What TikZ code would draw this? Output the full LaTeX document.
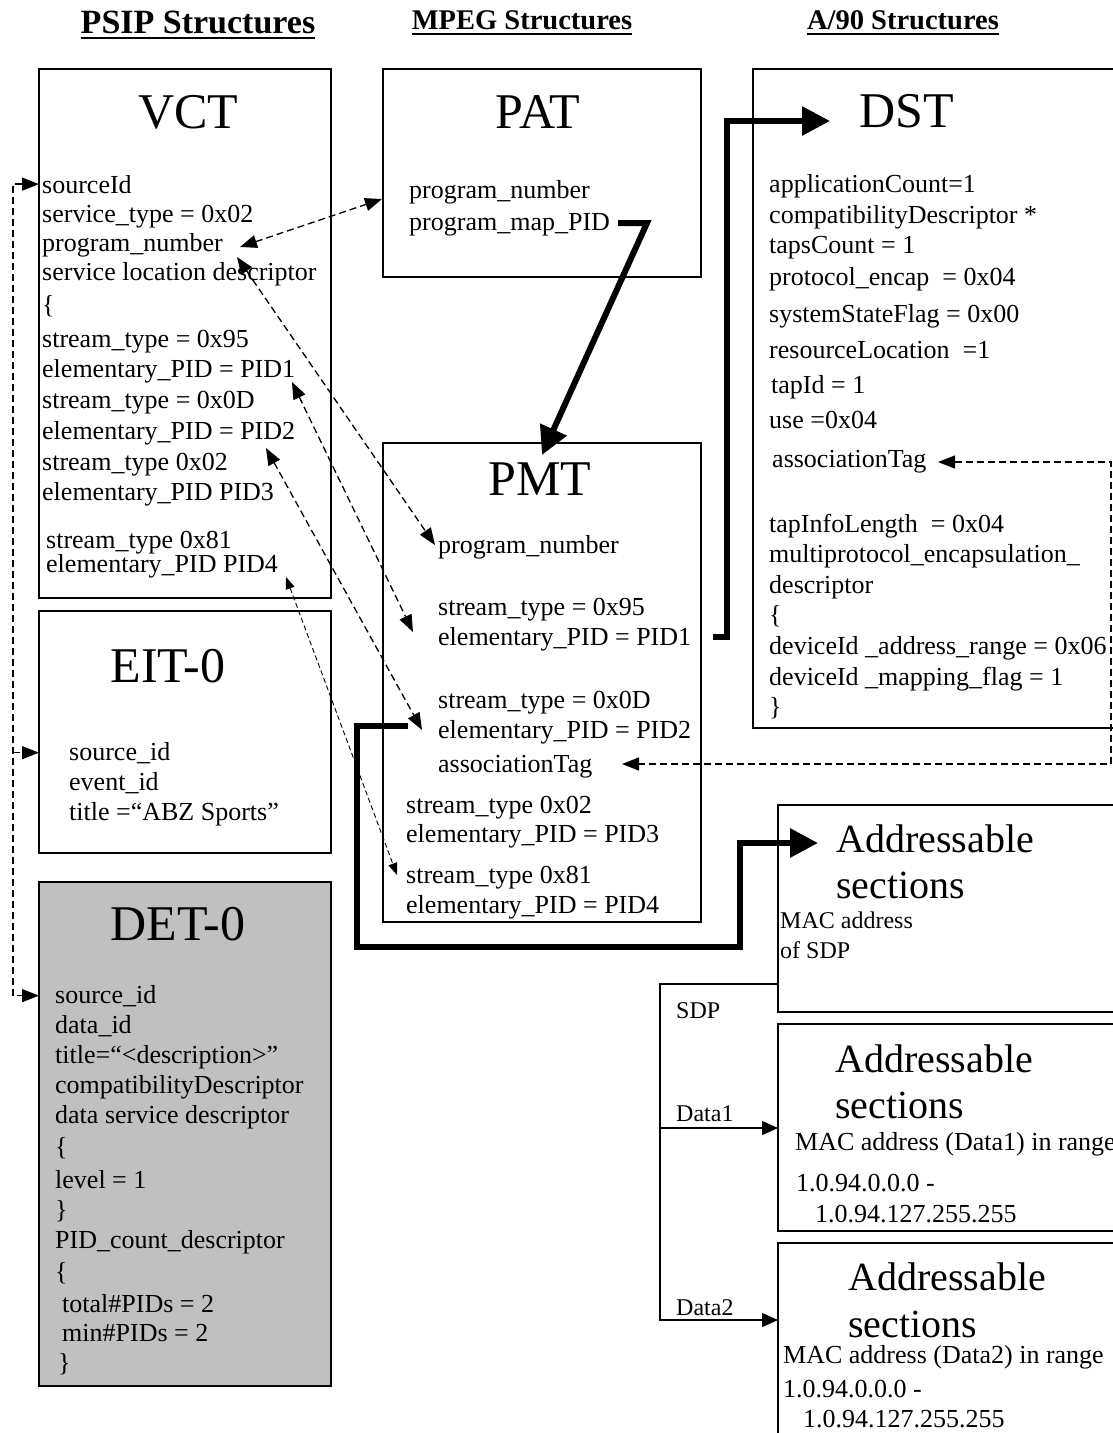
\documentclass[tikz,border=0pt]{standalone}
\usepackage{fontspec}
\setmainfont{Liberation Serif}
\usetikzlibrary{arrows.meta}
\definecolor{detgray}{RGB}{192,192,192}
\newcommand\bodyfont{\fontsize{26}{31}\selectfont}
\newcommand\macfont{\fontsize{24}{29}\selectfont}
\newcommand\tabfont{\fontsize{50}{60}\selectfont}
\newcommand\secfont{\fontsize{40}{48}\selectfont}
\newcommand\hdline[1]{\setbox0\hbox{#1}\rlap{\vrule width\wd0 height -4pt depth 6pt}\box0}
\begin{document}
\begin{tikzpicture}[x=1pt,y=-1pt,>={Triangle[length=17pt,width=13pt]}]
\tikzstyle{tbl}=[draw,line width=1.5pt,inner sep=0pt,outer sep=0pt,anchor=north west]
\tikzstyle{fld}=[inner sep=0pt,anchor=base west,font=\bodyfont]
\tikzstyle{ttl}=[inner sep=0pt,anchor=base,font=\tabfont]
\tikzstyle{hd}=[inner sep=0pt,anchor=base]
\tikzstyle{bold link}=[line width=6pt,-{Triangle[length=28pt,width=28pt]}]
\tikzstyle{ref link}=[line width=1.3pt,dash pattern=on 7pt off 4pt]
\tikzstyle{tap}=[line width=1.4pt,-{Triangle[length=16pt,width=14pt]}]
\useasboundingbox (0,0) rectangle (1113,1433);
\clip (0,0) rectangle (1113,1433);
\node (hpsip) [hd,font=\fontsize{34}{40}\selectfont\bfseries] at (198,33) {\hdline{PSIP Structures}};
\node (hmpeg) [hd,font=\fontsize{28.5}{34}\selectfont\bfseries] at (522,29) {\hdline{MPEG Structures}};
\node (ha90) [hd,font=\fontsize{28.5}{34}\selectfont\bfseries] at (903,29) {\hdline{A/90 Structures}};
\node (vct) [tbl,minimum width=292pt,minimum height=529pt] at (39,69) {};
\node (eit) [tbl,minimum width=292pt,minimum height=242pt] at (39,611) {};
\node (det) [tbl,fill=detgray,minimum width=292pt,minimum height=504pt] at (39,882) {};
\node (pat) [tbl,minimum width=318pt,minimum height=208pt] at (383,69) {};
\node (pmt) [tbl,minimum width=318pt,minimum height=479pt] at (383,443) {};
\node (dst) [tbl,minimum width=370pt,minimum height=659pt] at (753,69) {};
\node (adr1) [tbl,minimum width=345pt,minimum height=207pt] at (778,805) {};
\node (adr2) [tbl,minimum width=345pt,minimum height=207pt] at (778,1024) {};
\node (adr3) [tbl,minimum width=345pt,minimum height=250pt] at (778,1243) {};
\node (vctt) [ttl] at (188,128) {VCT};
\node (eitt) [ttl] at (168,682) {EIT-0};
\node (dett) [ttl] at (178,940) {DET-0};
\node (patt) [ttl] at (538,128) {PAT};
\node (pmtt) [ttl] at (540,495) {PMT};
\node (dstt) [ttl] at (907,127) {DST};
\node (v1) [fld] at (42,193) {sourceId};
\node (v2) [fld] at (42,222) {service\_type = 0x02};
\node (v3) [fld] at (42,251) {program\_number};
\node (v4) [fld] at (42,280) {service location descriptor};
\node (v5) [fld] at (42,313) {\{};
\node (v6) [fld] at (42,347) {stream\_type = 0x95};
\node (v7) [fld] at (42,377) {elementary\_PID = PID1};
\node (v8) [fld] at (42,408) {stream\_type = 0x0D};
\node (v9) [fld] at (42,439) {elementary\_PID = PID2};
\node (v10) [fld] at (42,470) {stream\_type 0x02};
\node (v11) [fld] at (42,500) {elementary\_PID PID3};
\node (v12) [fld] at (46,548) {stream\_type 0x81};
\node (v13) [fld] at (46,572) {elementary\_PID PID4};
\node (e1) [fld] at (69,760) {source\_id};
\node (e2) [fld] at (69,790) {event\_id};
\node (e3) [fld] at (69,820) {title =“ABZ Sports”};
\node (d1) [fld] at (55,1003) {source\_id};
\node (d2) [fld] at (55,1033) {data\_id};
\node (d3) [fld] at (55,1063) {title=“<description>”};
\node (d4) [fld] at (55,1093) {compatibilityDescriptor};
\node (d5) [fld] at (55,1123) {data service descriptor};
\node (d6) [fld] at (55,1155) {\{};
\node (d7) [fld] at (55,1188) {level = 1};
\node (d8) [fld] at (55,1218) {\}};
\node (d9) [fld] at (55,1248) {PID\_count\_descriptor};
\node (d10) [fld] at (55,1280) {\{};
\node (d11) [fld] at (62,1312) {total\#PIDs = 2};
\node (d12) [fld] at (62,1341) {min\#PIDs = 2};
\node (d13) [fld] at (58,1371) {\}};
\node (p1) [fld] at (409,198) {program\_number};
\node (p2) [fld] at (409,230) {program\_map\_PID};
\node (m1) [fld] at (438,553) {program\_number};
\node (m2) [fld] at (438,615) {stream\_type = 0x95};
\node (m3) [fld] at (438,645) {elementary\_PID = PID1};
\node (m4) [fld] at (438,708) {stream\_type = 0x0D};
\node (m5) [fld] at (438,738) {elementary\_PID = PID2};
\node (m6) [fld] at (438,772) {associationTag};
\node (m7) [fld] at (406,813) {stream\_type 0x02};
\node (m8) [fld] at (406,842) {elementary\_PID = PID3};
\node (m9) [fld] at (406,883) {stream\_type 0x81};
\node (m10) [fld] at (406,913) {elementary\_PID = PID4};
\node (s1) [fld] at (769,192) {applicationCount=1};
\node (s2) [fld] at (769,223) {compatibilityDescriptor *};
\node (s3) [fld] at (769,253) {tapsCount = 1};
\node (s4) [fld] at (769,285) {protocol\_encap\ \ = 0x04};
\node (s5) [fld] at (769,322) {systemStateFlag = 0x00};
\node (s6) [fld] at (769,358) {resourceLocation\ \ =1};
\node (s7) [fld] at (771,393) {tapId = 1};
\node (s8) [fld] at (769,428) {use =0x04};
\node (s9) [fld] at (772,467) {associationTag};
\node (s10) [fld] at (769,532) {tapInfoLength\ \ = 0x04};
\node (s11) [fld] at (769,562) {multiprotocol\_encapsulation\_};
\node (s12) [fld] at (769,593) {descriptor};
\node (s13) [fld] at (769,623) {\{};
\node (s14) [fld] at (769,654) {deviceId \_address\_range = 0x06};
\node (s15) [fld] at (769,685) {deviceId \_mapping\_flag = 1};
\node (s16) [fld] at (769,715) {\}};
\node (a1t) [fld,font=\secfont] at (836,852) {Addressable};
\node (a1s) [fld,font=\secfont] at (836,898) {sections};
\node (a1m) [fld,font=\macfont] at (780,928) {MAC address};
\node (a1o) [fld,font=\macfont] at (780,958) {of SDP};
\node (a2t) [fld,font=\secfont] at (835,1072) {Addressable};
\node (a2s) [fld,font=\secfont] at (835,1118) {sections};
\node (a2m) [fld] at (795,1150) {MAC address (Data1) in range};
\node (a2a) [fld] at (796,1191) {1.0.94.0.0.0 -};
\node (a2b) [fld] at (815,1222) {1.0.94.127.255.255};
\node (a3t) [fld,font=\secfont] at (848,1290) {Addressable};
\node (a3s) [fld,font=\secfont] at (848,1337) {sections};
\node (a3m) [fld] at (783,1363) {MAC address (Data2) in range};
\node (a3a) [fld] at (783,1397) {1.0.94.0.0.0 -};
\node (a3b) [fld] at (803,1427) {1.0.94.127.255.255};
\node (sdp) [fld,font=\macfont] at (676,1018) {SDP};
\node (dat1) [fld,font=\macfont] at (676,1121) {Data1};
\node (dat2) [fld,font=\macfont] at (676,1315) {Data2};
\coordinate (patpn) at (382,199);
\coordinate (vpnA) at (240,247);
\coordinate (vpnB) at (237,257);
\coordinate (mpn) at (435,545);
\coordinate (vp1) at (292,382);
\coordinate (mp1) at (413,632);
\coordinate (vp2) at (266,448);
\coordinate (mp2) at (422,730);
\coordinate (vp4) at (286,577);
\coordinate (mp4) at (397,875);
\coordinate (dtag) at (938,462);
\coordinate (mtag) at (622,764);
\coordinate (pmap) at (618,223);
\coordinate (pmtin) at (542,455);
\coordinate (pid1out) at (713,637);
\coordinate (dstin) at (830,121);
\coordinate (pid2out) at (408,726);
\coordinate (adrin) at (818,843);
\coordinate (sdpout) at (778,984);
\coordinate (d1in) at (778,1128);
\coordinate (d2in) at (778,1320);
\draw[ref link,<->] (vpnA) -- (patpn);
\draw[ref link,<->] (vpnB) -- (mpn);
\draw[ref link,<->] (vp1) -- (mp1);
\draw[ref link,<->] (vp2) -- (mp2);
\draw[ref link,<->,line width=0.9pt,dash pattern=on 5pt off 3pt,>={Triangle[length=12pt,width=9pt]}] (vp4) -- (mp4);
\draw[ref link,<->] (dtag) -- ++(173,0) |- (mtag);
\draw[ref link,<->] (vct.west |- v1) -- ++(-26,0) |- (det.west |- d1);
\draw[ref link,->] (eit.west |- e1) ++(-26,0) -- ++(26,0);
\draw[bold link] (pmap) -- ++(29,0) -- (pmtin);
\draw[bold link] (pid1out) -- ++(14,0) |- (dstin);
\draw[bold link] (pid2out) -- ++(-51,0) |- ++(383,221) |- (adrin);
\draw[tap] (sdpout) -- ++(-118,0) |- (d2in);
\draw[tap] (d1in) ++(-118,0) -- (d1in);
\end{tikzpicture}
\end{document}
